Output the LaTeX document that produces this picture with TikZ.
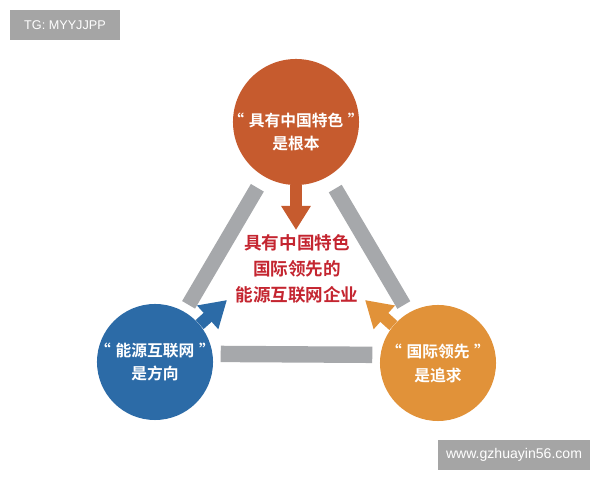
\documentclass[tikz,border=0pt]{standalone}
\usepackage{fontspec}
\newfontfamily\cjk{Noto Sans CJK SC Bold}
\newfontfamily\wmfont{Liberation Sans}
\usetikzlibrary{arrows.meta}
\definecolor{rootred}{RGB}{198,91,46}
\definecolor{netblue}{RGB}{44,107,167}
\definecolor{leadorange}{RGB}{225,146,57}
\definecolor{bargray}{RGB}{166,168,171}
\definecolor{corered}{RGB}{196,37,48}
\definecolor{wmgray}{RGB}{165,165,165}
\newcommand\openq{“\hspace{0.3em}}
\newcommand\closeq{\hspace{0.3em}”}

\begin{document}
\begin{tikzpicture}[x=0.025cm, y=0.025cm,
    ball/.style={circle, minimum size=#1, inner sep=0pt},
    balltext/.style={white, align=center, inner sep=0pt, font=\cjk\fontsize{11.2}{17}\selectfont},
    bar/.style={bargray, line width=0.375cm},
    pointer/.style={line width=0.3cm, -{Triangle[width=0.7cm, length=0.6cm]}},
    sidepointer/.style={line width=0.3cm, -{Triangle[width=0.75cm, length=0.65cm]}},
    wmbox/.style={fill=wmgray, text=white, inner sep=0pt, font=\wmfont}]
    \useasboundingbox (0,0) rectangle (600,480);

    \node[ball=3.15cm, fill=rootred] (top) at (296,358) {};
    \node[ball=2.9cm, fill=netblue] (left) at (155,118) {};
    \node[ball=2.9cm, fill=leadorange] (right) at (438,117) {};

    \draw[bar, shorten <=0.325cm, shorten >=0.2cm] (top) -- (left);
    \draw[bar, shorten <=0.35cm, shorten >=0.225cm] (top) -- (right);
    \draw[bar, line width=0.41cm, shorten <=0.2cm, shorten >=0.2cm] (left.8) -- (right.172);

    \node[corered, align=center, font=\cjk\fontsize{12.5}{18.5}\selectfont] (core) at (297,211)
        {具有中国特色\\国际领先的\\能源互联网企业};

    \coordinate (roottip) at (296,250);
    \coordinate (nettip) at (227,180);
    \coordinate (leadtip) at (365,180);
    \draw[pointer, rootred] (top.south) -- (roottip);
    \draw[sidepointer, netblue] (left.40) -- (nettip);
    \draw[sidepointer, leadorange] (right.140) -- (leadtip);

    \node[balltext] (toptext) at ([yshift=-0.25cm]top.center) {\openq 具有中国特色\closeq\\是根本};
    \node[balltext] (lefttext) at (left) {\openq 能源互联网\closeq\\是方向};
    \node[balltext] (righttext) at (right) {\openq 国际领先\closeq\\是追求};

    \node[wmbox, minimum width=2.75cm, minimum height=0.75cm, font=\wmfont\fontsize{9}{11}\selectfont] (tg) at (65,455) {TG: MYYJJPP};
    \node[wmbox, minimum width=3.775cm, minimum height=0.75cm, font=\wmfont\fontsize{10}{12}\selectfont] (site) at (514,25) {www.gzhuayin56.com};
\end{tikzpicture}
\end{document}
